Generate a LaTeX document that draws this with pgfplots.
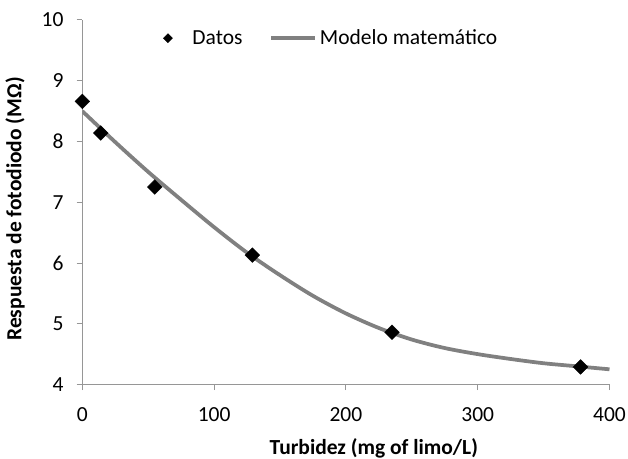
\documentclass[border=0pt]{standalone}
\usepackage{fontspec}
\setmainfont{Carlito}
\usepackage{pgfplots}
\pgfplotsset{compat=1.18}
\definecolor{axisgray}{RGB}{150,150,150}
\definecolor{modelgray}{RGB}{128,128,128}
\pgfplotsset{
  longline legend/.style={legend image code/.code={\draw[##1] (0pt,0pt) -- (44pt,0pt);}},
  smallmark legend/.style={legend image code/.code={\draw[##1, mark size=3.2pt] plot coordinates {(0pt,0pt)};}},
}

\begin{document}
\begin{tikzpicture}
\useasboundingbox (-82.3pt,-73.5pt) rectangle (545.7pt,384.5pt);
\begin{axis}[
  scale only axis,
  width=527.2pt, height=364.5pt,
  xmin=0, xmax=400, ymin=4, ymax=10,
  xtick={0,100,...,400}, ytick={4,5,...,10},
  axis lines*=left,
  axis line style={axisgray, line width=1pt},
  tick style={axisgray, line width=1pt},
  tick align=outside, major tick length=5.7pt,
  /pgf/number format/assume math mode=true,
  ticklabel style={font=\fontsize{21.5}{24}\selectfont, black},
  xticklabel style={yshift=-14pt},
  yticklabel style={xshift=-9.6pt},
  xlabel={Turbidez (mg of limo/L)},
  ylabel={Respuesta de fotodiodo (MΩ)},
  label style={font=\bfseries\fontsize{21.5}{24}\selectfont},
  xlabel style={at={(axis description cs:0.553,-0.1907)}, anchor=base},
  ylabel style={at={(axis description cs:-0.1277,0.4815)}, anchor=center},
  legend columns=2,
  legend style={draw=none, fill=none, inner sep=0pt, column sep=0pt,
    nodes={inner xsep=0pt},
    at={(axis description cs:0.1535,0.95)}, anchor=west,
    font=\fontsize{21.5}{24}\selectfont},
  /tikz/column 1/.style={column sep=20pt},
  /tikz/column 2/.style={column sep=27pt},
  /tikz/column 3/.style={column sep=2.7pt},
]
\addplot[modelgray, line width=3.75pt, smooth, forget plot] coordinates {
  (0,8.50)(25,7.99)(50,7.50)(75,7.04)(100,6.59)(125,6.17)(150,5.80)
  (175,5.46)(200,5.17)(225,4.93)(250,4.74)(275,4.60)(300,4.50)
  (325,4.42)(350,4.35)(375,4.30)(400,4.25)
};
\addplot[only marks, mark=square*, mark size=5.2pt, black,
  mark options={rotate=45}, smallmark legend] coordinates {
  (0,8.66)(14,8.14)(55,7.25)(129,6.13)(235,4.86)(378,4.29)
};
\addlegendentry{Datos}
\addlegendimage{modelgray, line width=3.75pt, longline legend}
\addlegendentry{Modelo matemático}
\end{axis}
\end{tikzpicture}
\end{document}
